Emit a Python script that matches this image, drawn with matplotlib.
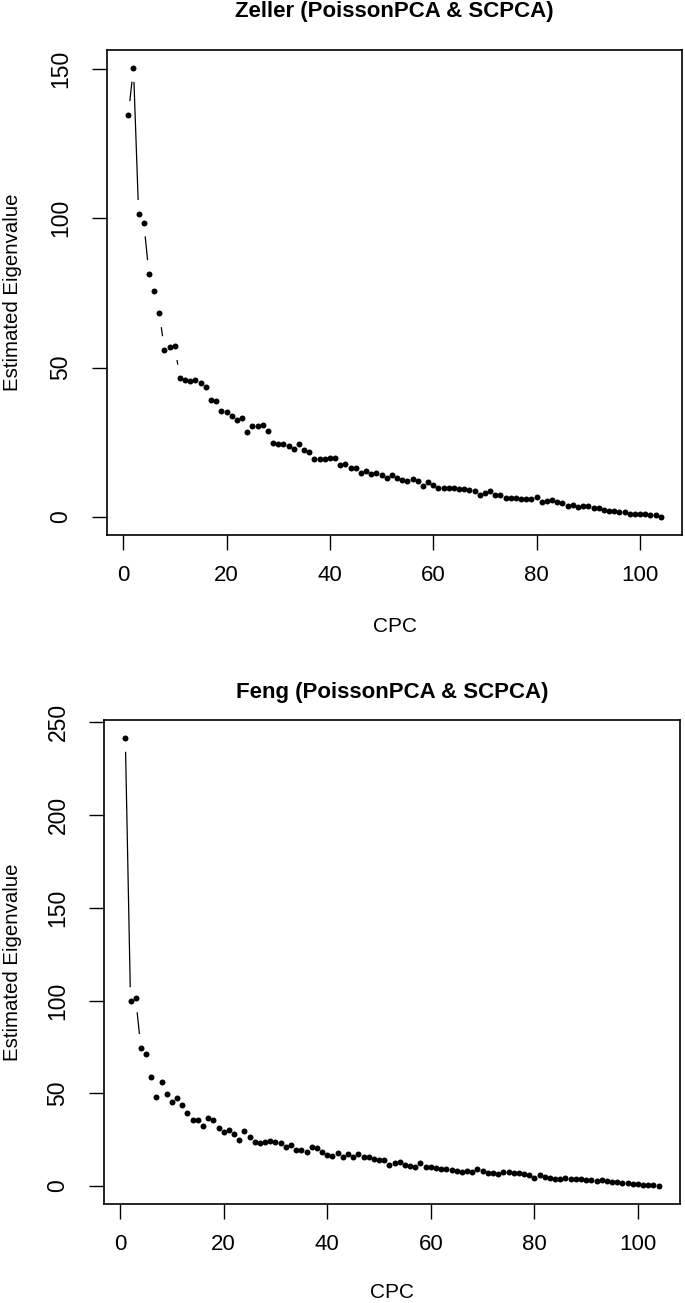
import numpy as np
import matplotlib
matplotlib.use("Agg")
from matplotlib import pyplot as plt

plt.rcParams['font.family'] = ['Liberation Sans', 'DejaVu Sans']

cpc = list(range(1, 105))

zeller = [134.5, 150.2, 101.4, 98.5, 81.3, 75.7, 68.1, 55.9, 56.8, 57.1,
          46.4, 46.0, 45.5, 45.9, 44.9, 43.5, 39.1, 38.7, 35.5, 35.2,
          33.8, 32.4, 33.2, 28.5, 30.3, 30.4, 30.8, 28.8, 24.9, 24.4,
          24.3, 23.8, 22.8, 24.4, 22.4, 21.7, 19.5, 19.4, 19.3, 19.8,
          19.8, 17.4, 17.8, 16.4, 16.3, 14.6, 15.3, 14.5, 14.8, 14.0,
          13.0, 14.1, 12.9, 12.4, 12.0, 12.6, 12.2, 10.4, 11.6, 10.8,
          9.8, 9.7, 9.8, 9.8, 9.3, 9.4, 9.0, 8.7, 7.3, 8.1,
          8.7, 7.4, 7.4, 6.4, 6.5, 6.4, 6.1, 6.0, 5.9, 6.8,
          5.1, 5.2, 5.7, 5.1, 4.8, 3.6, 3.9, 3.3, 3.7, 3.6,
          2.9, 3.1, 2.2, 2.1, 2.0, 1.7, 1.6, 1.1, 1.1, 1.1,
          1.0, 0.8, 0.6, 0.0]

feng = [241.5, 99.7, 101.1, 74.5, 71.3, 58.9, 48.1, 56.2, 49.7, 45.4,
        47.2, 43.8, 39.3, 35.4, 35.6, 32.3, 36.8, 35.7, 31.4, 29.1,
        30.0, 28.2, 24.9, 29.8, 26.4, 23.5, 23.0, 23.5, 24.2, 23.9,
        23.0, 20.8, 22.3, 19.6, 19.6, 18.5, 20.8, 20.5, 18.5, 16.9,
        16.3, 17.8, 15.8, 17.1, 15.5, 17.2, 15.5, 15.5, 14.4, 14.0,
        14.2, 11.6, 12.6, 13.0, 11.3, 10.6, 10.1, 12.4, 10.1, 10.1,
        9.7, 9.3, 9.0, 8.6, 8.2, 7.7, 7.9, 7.5, 9.2, 7.9,
        6.8, 7.0, 6.5, 7.7, 7.4, 7.0, 6.8, 6.5, 5.8, 4.5,
        5.9, 4.8, 4.3, 3.9, 3.6, 4.5, 3.9, 3.8, 3.6, 3.2,
        3.1, 2.9, 3.4, 2.5, 2.2, 2.0, 1.6, 1.5, 0.9, 0.9,
        0.7, 0.5, 0.4, 0.0]

titles = ["Zeller (PoissonPCA & SCPCA)", "Feng (PoissonPCA & SCPCA)"]
yticks_list = [[0, 50, 100, 150], [0, 50, 100, 150, 200, 250]]
xticks = [0, 20, 40, 60, 80, 100]

W, H = 685, 1303
fig = plt.figure(figsize=(W / 100, H / 100), dpi=100)
# axes boxes in pixels: left, top, right, bottom
boxes = [(107, 50, 682, 535), (104, 720, 680, 1204)]
title_y = [12, 692]
xlabel_y = [627, 1293]

GAP = 14.5  # px gap around points, like R type="b"


def r_lim(v):
    lo, hi = min(v), max(v)
    r = hi - lo
    return lo - 0.04 * r, hi + 0.04 * r


for vals, title, yt, box, ty, ly in zip([zeller, feng], titles, yticks_list, boxes, title_y, xlabel_y):
    l, t, r, b = box
    ax = fig.add_axes([l / W, 1 - b / H, (r - l) / W, (b - t) / H])
    ax.set_xlim(r_lim(cpc))
    ax.set_ylim(r_lim(vals))

    # gapped connecting lines
    pts = ax.transData.transform(np.column_stack([cpc, vals]))
    segx, segy = [], []
    inv = ax.transData.inverted()
    for p0, p1 in zip(pts[:-1], pts[1:]):
        d = p1 - p0
        L = np.hypot(*d)
        if L > 2 * GAP:
            a = inv.transform(p0 + d / L * GAP)
            c = inv.transform(p1 - d / L * GAP)
            segx += [a[0], c[0], np.nan]
            segy += [a[1], c[1], np.nan]
    ax.plot(segx, segy, color='black', lw=0.9)
    ax.plot(cpc, vals, 'o', color='black', markersize=4.3, markeredgewidth=0)

    ax.set_xticks(xticks)
    ax.set_yticks(yt)
    ax.tick_params(axis='both', direction='out', length=10.8, width=1.0, color='black')
    ax.tick_params(axis='x', labelsize=16, pad=11)
    ax.tick_params(axis='y', labelsize=16.5, pad=14)
    for lab in ax.get_yticklabels():
        lab.set_rotation(90)
        lab.set_va('center')
    for s in ax.spines.values():
        s.set_linewidth(1.2)

    ax.set_xlabel("CPC", fontsize=15)
    ax.xaxis.set_label_coords(0.5, -(ly - b) / (b - t))
    ax.xaxis.label.set_va('center')
    ax.set_ylabel("Estimated Eigenvalue", fontsize=14.7)
    ax.yaxis.set_label_coords((13 - l) / (r - l), 0.5)
    ax.yaxis.label.set_va('center')

    fig.text((l + r) / 2 / W, 1 - ty / H, title, ha='center', va='center',
             fontsize=16, fontweight='bold')

fig.savefig("out.png", dpi=100)
